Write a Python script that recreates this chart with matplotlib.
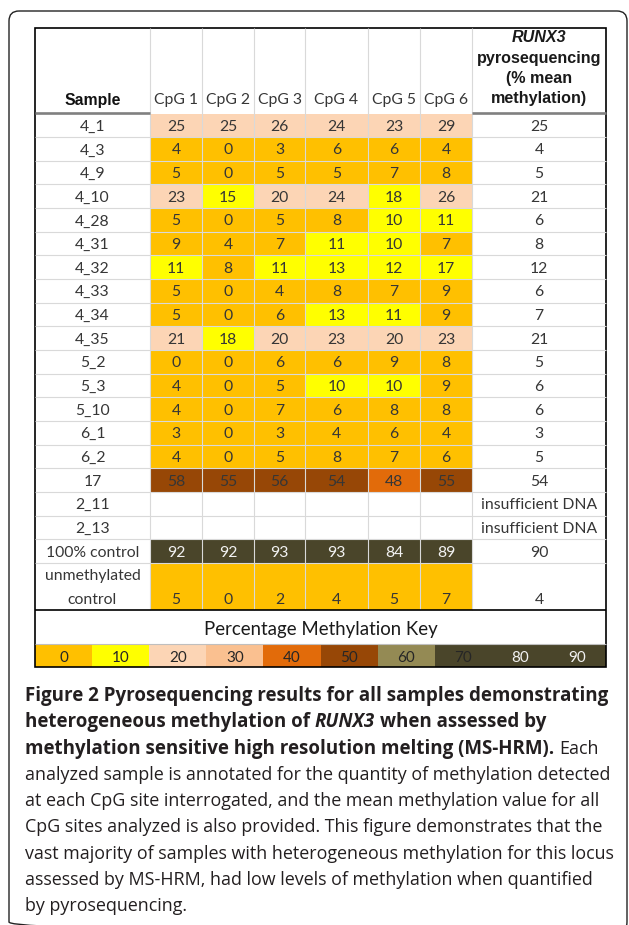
import numpy as np
import matplotlib
matplotlib.use('Agg')
import matplotlib.pyplot as plt
from matplotlib.colors import ListedColormap, BoundaryNorm
from matplotlib.patches import FancyBboxPatch, Rectangle

# table data
samples = ['4_1', '4_3', '4_9', '4_10', '4_28', '4_31', '4_32', '4_33', '4_34', '4_35',
           '5_2', '5_3', '5_10', '6_1', '6_2', '17', '2_11', '2_13', '100% control',
           'unmethylated\ncontrol']
cpg_labels = ['CpG 1', 'CpG 2', 'CpG 3', 'CpG 4', 'CpG 5', 'CpG 6']
nan = np.nan
cpg = np.array([
    [25, 25, 26, 24, 23, 29],
    [4, 0, 3, 6, 6, 4],
    [5, 0, 5, 5, 7, 8],
    [23, 15, 20, 24, 18, 26],
    [5, 0, 5, 8, 10, 11],
    [9, 4, 7, 11, 10, 7],
    [11, 8, 11, 13, 12, 17],
    [5, 0, 4, 8, 7, 9],
    [5, 0, 6, 13, 11, 9],
    [21, 18, 20, 23, 20, 23],
    [0, 0, 6, 6, 9, 8],
    [4, 0, 5, 10, 10, 9],
    [4, 0, 7, 6, 8, 8],
    [3, 0, 3, 4, 6, 4],
    [4, 0, 5, 8, 7, 6],
    [58, 55, 56, 54, 48, 55],
    [nan] * 6,
    [nan] * 6,
    [92, 92, 93, 93, 84, 89],
    [5, 0, 2, 4, 5, 7],
])
mean_meth = ['25', '4', '5', '21', '6', '8', '12', '6', '7', '21', '5', '6', '6', '3', '5',
             '54', 'insufficient DNA', 'insufficient DNA', '90', '4']
key_levels = [0, 10, 20, 30, 40, 50, 60, 70, 80, 90]
key_colors = ['#FFC000', '#FFFF00', '#FCD5B5', '#FAC090', '#E26B0A', '#974706',
              '#948A54', '#4A452A', '#4A452A', '#4A452A']

caption = [
    [('Figure 2 Pyrosequencing results for all samples demonstrating', 'bold', 'normal')],
    [('heterogeneous methylation of', 'bold', 'normal'), ('RUNX3', 'bold', 'italic'),
     ('when assessed by', 'bold', 'normal')],
    [('methylation sensitive high resolution melting (MS-HRM).', 'bold', 'normal'),
     ('Each', 'normal', 'normal')],
    [('analyzed sample is annotated for the quantity of methylation detected', 'normal', 'normal')],
    [('at each CpG site interrogated, and the mean methylation value for all', 'normal', 'normal')],
    [('CpG sites analyzed is also provided. This figure demonstrates that the', 'normal', 'normal')],
    [('vast majority of samples with heterogeneous methylation for this locus', 'normal', 'normal')],
    [('assessed by MS-HRM, had low levels of methylation when quantified', 'normal', 'normal')],
    [('by pyrosequencing.', 'normal', 'normal')],
]

# layout in pixels
W, H = 629, 925
col_x = np.array([35, 150, 202, 254, 305, 368, 420, 472, 606])
top = 28
head_bot = 113.5
rh = 23.65
row_span = [1] * 19 + [2]
row_y = head_bot + rh * np.concatenate([[0], np.cumsum(row_span)])
bar_top, bar_bot = 644, 667
fs = 11.3

fig = plt.figure(figsize=(W / 100, H / 100), dpi=100)
ax = fig.add_axes([0, 0, 1, 1])
ax.set_xlim(0, W)
ax.set_ylim(H, 0)
ax.axis('off')

grid = '#d9d9d9'
dark = '#363636'
ax.hlines(row_y[1:-1], col_x[0], col_x[-1], color=grid, lw=0.8)
ax.vlines(col_x[1:-1], top, row_y[-1], color=grid, lw=0.8)

cmap = ListedColormap(key_colors)
norm = BoundaryNorm(key_levels + [100], cmap.N)
ax.pcolormesh(col_x[1:8], row_y, np.ma.masked_invalid(cpg), cmap=cmap, norm=norm,
              antialiased=False)

# thick grey header rule under Sample and RUNX3 columns
ax.hlines(head_bot - 1, col_x[0], col_x[1], color='#808080', lw=1.9)
ax.hlines(head_bot - 1, col_x[7], col_x[8], color='#808080', lw=1.9)

# header
ax.text((col_x[0] + col_x[1]) / 2, 104.5, 'Sample', ha='center', va='baseline',
        family='Liberation Sans', weight='bold', fontsize=11.3, color='#111111')
for j, lab in enumerate(cpg_labels):
    ax.text((col_x[j + 1] + col_x[j + 2]) / 2, 104, lab, ha='center', va='baseline',
            family='Lato', fontsize=fs, color=dark)
rx = (col_x[7] + col_x[8]) / 2
for k, lab in enumerate(['RUNX3', 'pyrosequencing', '(% mean', 'methylation)']):
    ax.text(rx, 42.5 + 20 * k, lab, ha='center', va='baseline', family='Liberation Sans',
            weight='bold', style='italic' if k == 0 else 'normal', fontsize=11.6,
            color='#1a1a1a')

# body text
sx = (col_x[0] + col_x[1]) / 2
for i, s in enumerate(samples):
    y0, y1 = row_y[i], row_y[i + 1]
    yb = y1 - rh / 2 + 5.5
    if '\n' in s:
        a, b = s.split('\n')
        ax.text(sx, y0 + rh / 2 + 5.5, a, ha='center', va='baseline',
                family='Lato', fontsize=fs, color=dark)
        ax.text(sx, yb, b, ha='center', va='baseline', family='Lato', fontsize=fs, color=dark)
    else:
        ax.text(sx, yb, s, ha='center', va='baseline', family='Lato', fontsize=fs, color=dark)
    for j in range(6):
        v = cpg[i, j]
        if np.isnan(v):
            continue
        ax.text((col_x[j + 1] + col_x[j + 2]) / 2, yb, '%d' % v, ha='center', va='baseline',
                family='Lato', fontsize=fs, color='#f2f2f2' if v >= 80 else dark)
    ax.text(rx, yb, mean_meth[i], ha='center', va='baseline', family='Lato',
            fontsize=fs, color=dark)

# key
ax.hlines(row_y[-1], col_x[0], col_x[-1], color='black', lw=1.2)
ax.text((col_x[0] + col_x[-1]) / 2, 635.5, 'Percentage Methylation Key', ha='center',
        va='baseline', family='Lato', fontsize=13.4, color='#1a1a1a')
key_x = np.linspace(col_x[0], col_x[-1], len(key_levels) + 1)
ax.pcolormesh(key_x, [bar_top, bar_bot], np.array([key_levels]), cmap=cmap, norm=norm,
              antialiased=False)
ax.hlines(bar_top, col_x[0], col_x[-1], color='#bfbfbf', lw=0.8)
for k, lv in enumerate(key_levels):
    ax.text((key_x[k] + key_x[k + 1]) / 2, 661.5, str(lv), ha='center', va='baseline',
            family='Lato', fontsize=11, color='#f2f2f2' if lv >= 80 else '#262626')

ax.add_patch(Rectangle((col_x[0], top), col_x[-1] - col_x[0], bar_bot - top,
                       fill=False, ec='black', lw=1.2))

# outer rounded frame
ax.add_patch(FancyBboxPatch((9, 11), 618, 921, boxstyle='round,pad=0,rounding_size=10',
                            fill=False, ec='#222222', lw=1.0))

# caption, bold and regular sizes fitted to the widths of their lines
r = fig.canvas.get_renderer()


def width(txt, **kw):
    t = ax.text(0, 0, txt, **kw)
    w = t.get_window_extent(r).width
    t.remove()
    return w


cap_font = 'Open Sans'
bold_size = 10 * 583 / width(caption[0][0][0], family=cap_font, weight='bold', fontsize=10)
reg_size = 10 * 590 / width(caption[6][0][0], family=cap_font, fontsize=10)
for n, line in enumerate(caption):
    x = 25
    y = 701 + 26.3 * n
    for k, (txt, wt, st) in enumerate(line):
        kw = dict(family=cap_font, weight=wt, style=st,
                  fontsize=bold_size if wt == 'bold' else reg_size)
        if k > 0:
            x += width('a a', **kw) - width('aa', **kw)
        t = ax.text(x, y, txt, ha='left', va='baseline', color='#231f20', **kw)
        x += t.get_window_extent(r).width

fig.savefig('out.png', dpi=100)
